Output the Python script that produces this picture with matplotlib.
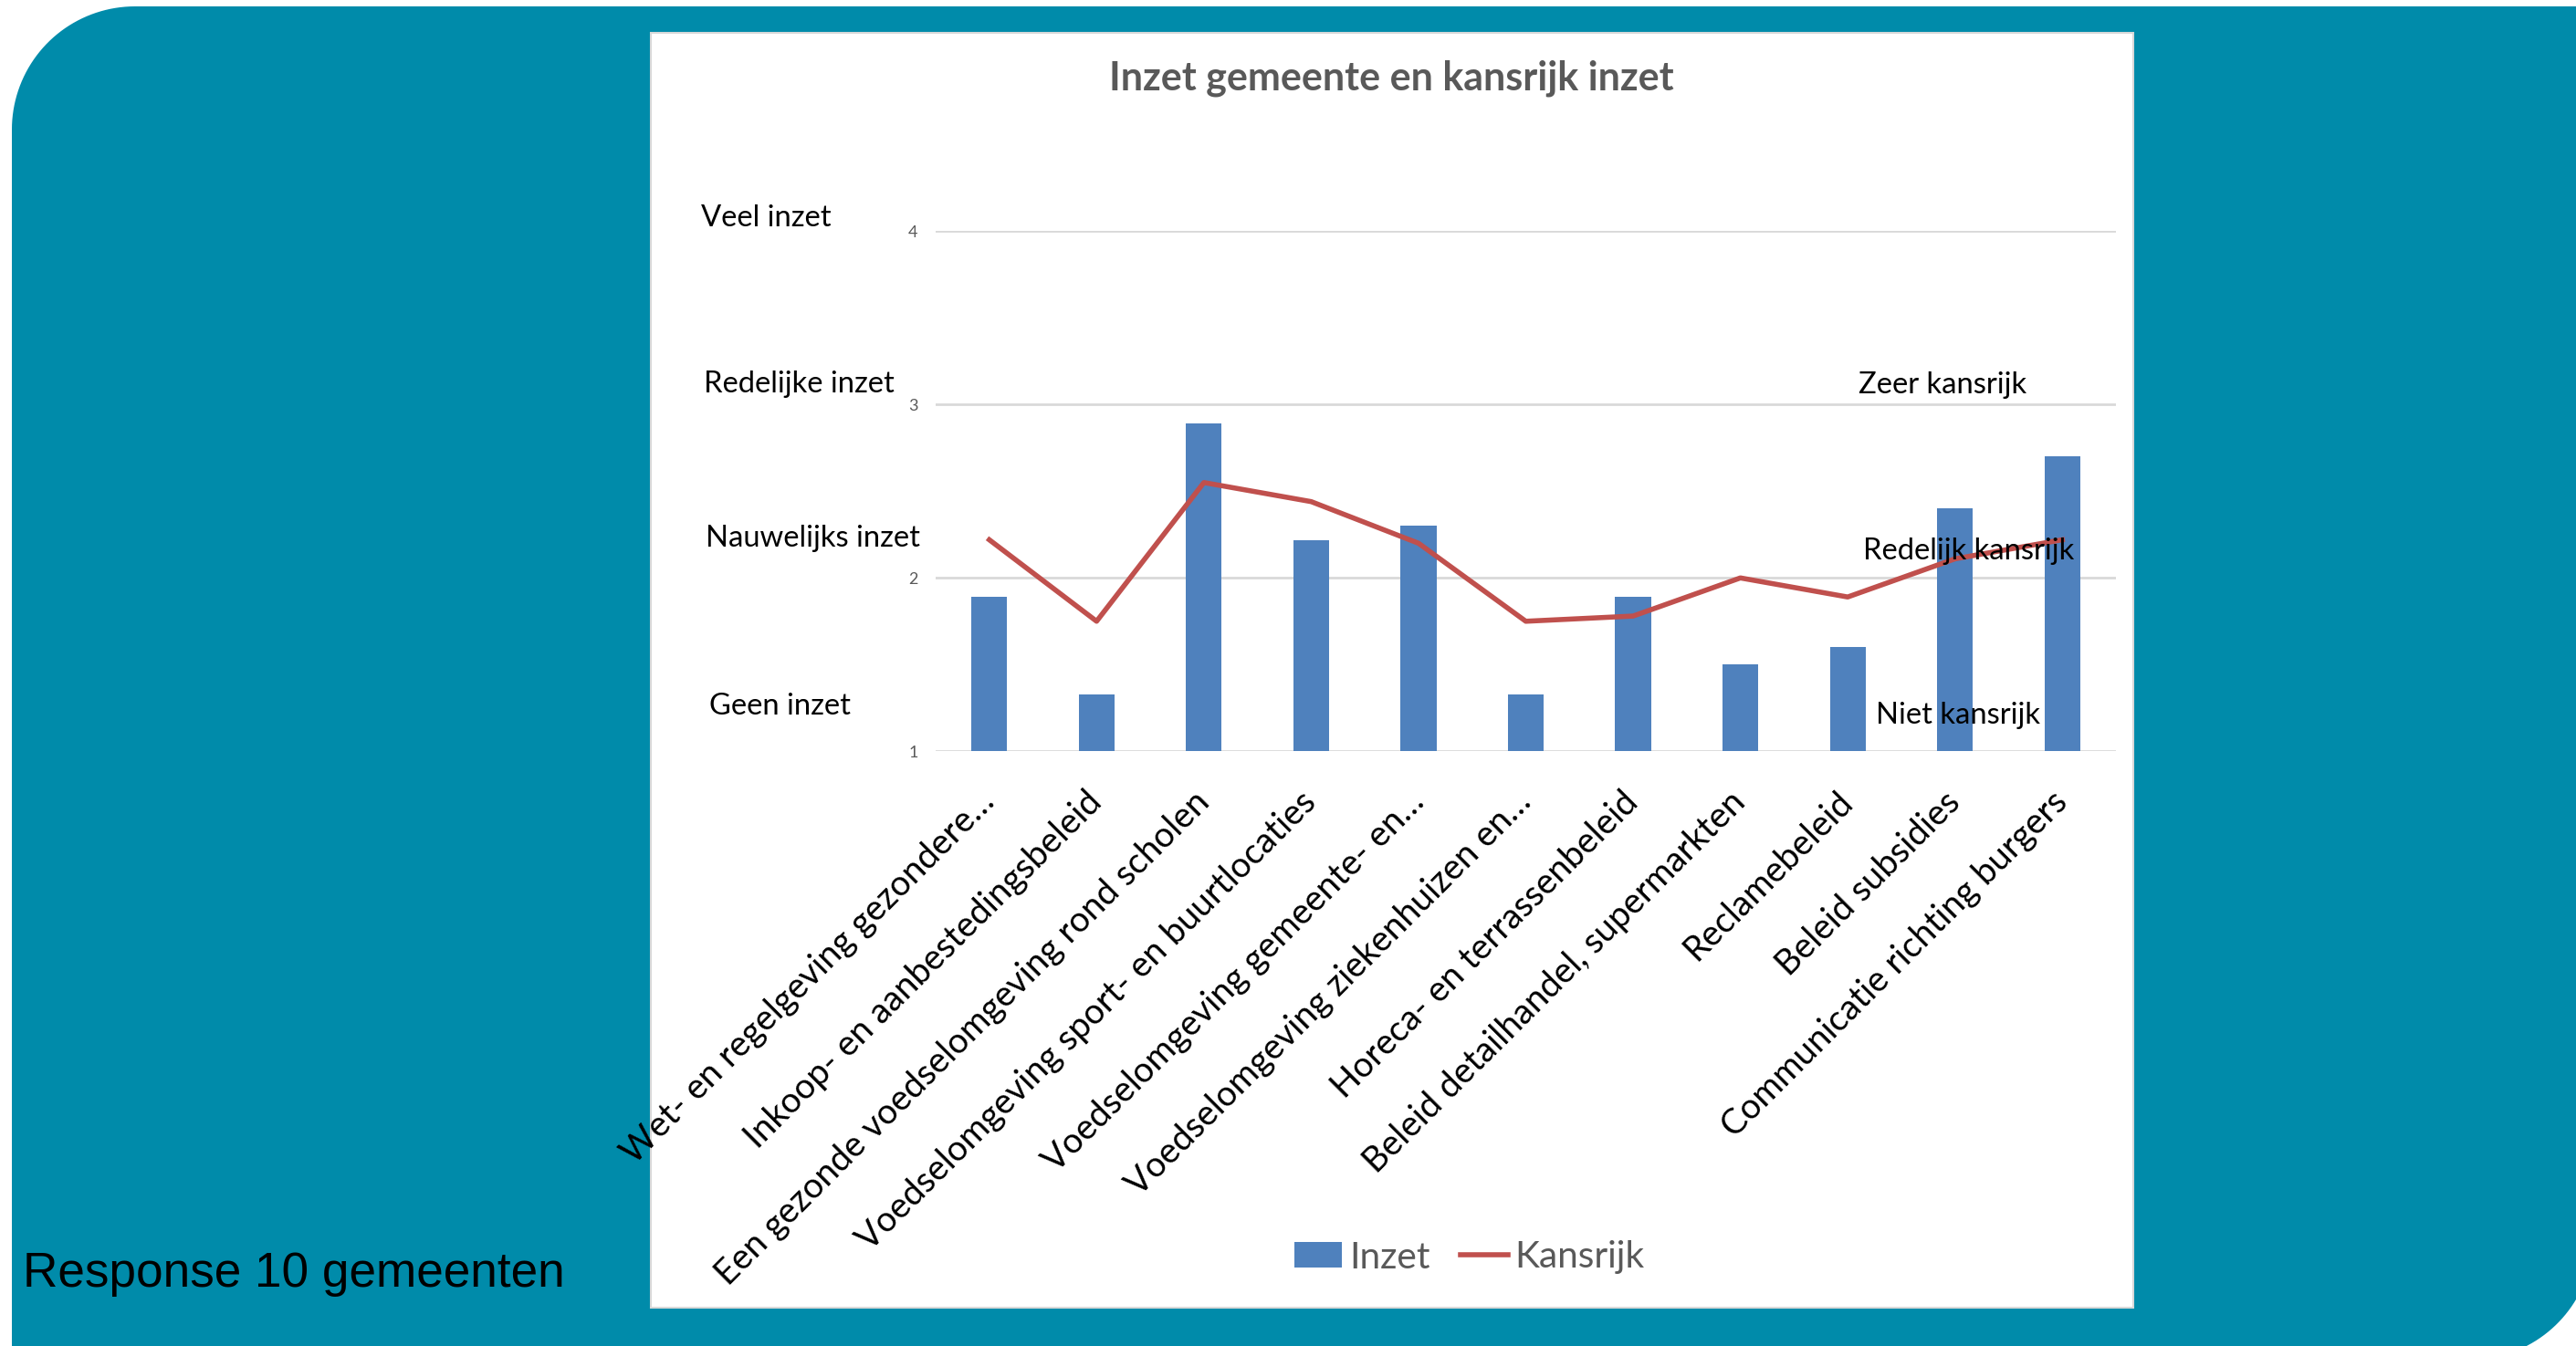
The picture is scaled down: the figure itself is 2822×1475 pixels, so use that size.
import numpy as np
import matplotlib
matplotlib.use("Agg")
import matplotlib.pyplot as plt
from matplotlib.path import Path
from matplotlib.patches import PathPatch, Rectangle
from matplotlib.lines import Line2D

# ---------------- data ----------------
categories = [
    "Wet- en regelgeving gezondere…",
    "Inkoop- en aanbestedingsbeleid",
    "Een gezonde voedselomgeving rond scholen",
    "Voedselomgeving sport- en buurtlocaties",
    "Voedselomgeving gemeente- en…",
    "Voedselomgeving ziekenhuizen en…",
    "Horeca- en terrassenbeleid",
    "Beleid detailhandel, supermarkten",
    "Reclamebeleid",
    "Beleid subsidies",
    "Communicatie richting burgers",
]
inzet = [1.89, 1.33, 2.89, 2.22, 2.30, 1.33, 1.89, 1.50, 1.60, 2.40, 2.70]
kansrijk = [2.22, 1.75, 2.55, 2.44, 2.20, 1.75, 1.78, 2.00, 1.89, 2.11, 2.22]
y_ticks = [1, 2, 3, 4]
inzet_levels = ["Veel inzet", "Redelijke inzet", "Nauwelijks inzet", "Geen inzet"]
kans_levels = ["Zeer kansrijk", "Redelijk kansrijk", "Niet kansrijk"]
title = "Inzet gemeente en kansrijk inzet"
footnote = "Response 10 gemeenten"

# ---------------- styling ----------------
W, H = 2822, 1475
DPI = 100
TEAL = "#008BAA"
BAR = "#4F81BD"
LINE = "#C0504D"
GRID = "#D9D9D9"
GREY = "#595959"
FONT = "Lato"

def fx(x):
    return x / W

def fy(y):
    return 1 - y / H

fig = plt.figure(figsize=(W / DPI, H / DPI), dpi=DPI)
fig.patch.set_facecolor("white")

# background shape: rectangle with rounded top-left and bottom-right corners
R = 135
x0, y0, x1, y1 = 13, 7, 2841, 1490
verts = [(x0, y1), (x0, y0 + R)]
for t in np.linspace(np.pi, 1.5 * np.pi, 40):
    verts.append((x0 + R + R * np.cos(t), y0 + R + R * np.sin(t)))
verts += [(x1, y0), (x1, y1 - R)]
for t in np.linspace(0, 0.5 * np.pi, 40):
    verts.append((x1 - R + R * np.cos(t), y1 - R + R * np.sin(t)))
verts.append((x0, y1))
verts_in = [(vx / DPI, (H - vy) / DPI) for vx, vy in verts]
bg = PathPatch(Path(verts_in, closed=True), facecolor=TEAL, edgecolor="none",
               transform=fig.dpi_scale_trans, zorder=0)
fig.add_artist(bg)

# white chart box
cb = Rectangle((fx(713), fy(1433)), fx(2337) - fx(713), fy(36) - fy(1433),
               transform=fig.transFigure, facecolor="white", edgecolor=GRID,
               linewidth=1.5, zorder=1)
fig.add_artist(cb)

# axes
ax = fig.add_axes([fx(1025), fy(823.3), fx(2318) - fx(1025), fy(253.3) - fy(823.3)])
ax.set_facecolor("none")
ax.set_zorder(2)
x = np.arange(len(categories))
ax.set_xlim(-0.5, len(categories) - 0.5)
ax.set_ylim(1, 4)
ax.set_yticks(y_ticks)
ax.set_yticklabels([str(v) for v in y_ticks], color=GREY, fontsize=13, family=FONT)
ax.tick_params(axis="y", length=0, pad=14)
ax.tick_params(axis="x", length=0)
ax.grid(axis="y", color=GRID, linewidth=2, zorder=0)
ax.set_axisbelow(True)
for s in ax.spines.values():
    s.set_visible(False)

bars = ax.bar(x, inzet, width=0.333, color=BAR, zorder=2, label="Inzet")
line, = ax.plot(x, kansrijk, color=LINE, linewidth=4.0, zorder=3,
                solid_joinstyle="round", label="Kansrijk")

renderer = fig.canvas.get_renderer()

def width_of(t):
    return t.get_window_extent(renderer).width

def fit(t, target):
    t.set_fontsize(t.get_fontsize() * target / width_of(t))
    return t.get_fontsize()

# x tick labels
probe = fig.text(0, 0, categories[2], family=FONT, fontsize=30)
lab_size = fit(probe, 745)
probe.remove()
ax.set_xticks(x)
ax.set_xticklabels(categories, rotation=45, ha="right", va="center",
                   rotation_mode="anchor", family=FONT, fontsize=lab_size,
                   color="black")
ax.tick_params(axis="x", pad=36)

# title
tt = fig.text(fx(1524), fy(86), title, ha="center", va="center",
              family=FONT, fontweight="bold", color=GREY, fontsize=28)
fit(tt, 619)

# level labels (inzet, left)
probe = fig.text(0, 0, "Nauwelijks inzet", family=FONT, fontsize=20)
lvl_size = fit(probe, 236)
probe.remove()
inzet_pos = [(768, 239), (771, 421), (773, 590), (777, 774)]
for txt, (px, py) in zip(inzet_levels, inzet_pos):
    fig.text(fx(px), fy(py), txt, ha="left", va="center", family=FONT,
             fontsize=lvl_size, color="black", zorder=5)

# level labels (kansrijk, right)
kans_pos = [(2036, 422), (2041, 604), (2055, 784)]
for txt, (px, py) in zip(kans_levels, kans_pos):
    fig.text(fx(px), fy(py), txt, ha="left", va="center", family=FONT,
             fontsize=lvl_size, color="black", zorder=5)

# legend
probe = fig.text(0, 0, "Kansrijk", family=FONT, fontsize=20)
leg_size = fit(probe, 143)
probe.remove()
leg_px = leg_size * DPI / 72
h_bar = Rectangle((0, 0), 1, 1, facecolor=BAR, edgecolor="none")
h_line = Line2D([], [], color=LINE, linewidth=4.0)
leg = fig.legend([h_bar, h_line], ["Inzet", "Kansrijk"], loc="center",
                 bbox_to_anchor=(fx(1610), fy(1378)), ncol=2, frameon=False,
                 prop={"family": FONT, "size": leg_size},
                 handlelength=52 / leg_px, handleheight=27 / leg_px,
                 handletextpad=8 / leg_px, columnspacing=33 / leg_px,
                 borderpad=0)
for t in leg.get_texts():
    t.set_color(GREY)

# footnote
ft = fig.text(fx(25), fy(1410), footnote, ha="left", va="baseline",
              family="Liberation Sans", color="black", fontsize=38)
fit(ft, 594)

fig.savefig("out.png", dpi=DPI, facecolor="white")
